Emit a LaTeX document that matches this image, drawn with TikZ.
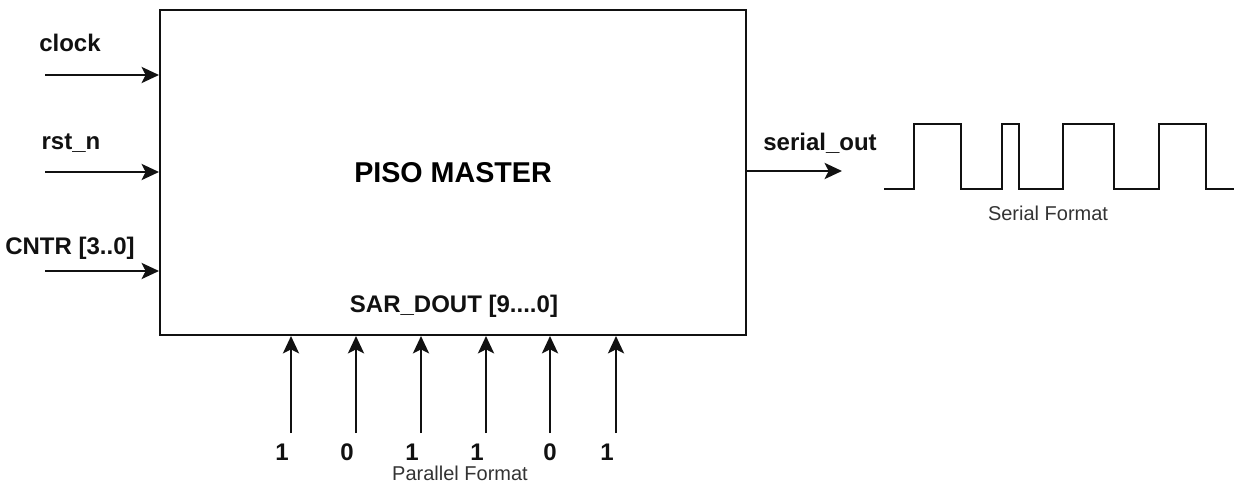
\documentclass[tikz,border=0pt]{standalone}
\usepackage{fontspec}
\setmainfont{Liberation Sans}
\usetikzlibrary{arrows.meta, calc}
\definecolor{ink}{HTML}{111111}
\definecolor{note}{HTML}{333333}

\begin{document}
\begin{tikzpicture}[
  x=0.75pt, y=-0.75pt,
  >={Stealth[length=13pt, width=12pt, inset=3pt]},
  sig/.style={->, ink, line width=2.2pt},
  lbl/.style={ink, font=\fontsize{18}{20}\selectfont\bfseries, inner sep=0pt},
  fmt/.style={note, font=\fontsize{15}{17}\selectfont, inner sep=0pt}
]

% Canvas
\useasboundingbox (0,0) rectangle (1234,495);

% ── Main block ──
\node[draw=ink, line width=1.5pt, minimum width=439.5pt, minimum height=243.75pt,
  font=\fontsize{21.5}{24}\selectfont\bfseries, inner sep=0pt]
  (piso) at (453,172.5) {PISO MASTER};
\node[lbl] (dout) at (454,306) {SAR\_DOUT [9....0]};

% ── Inputs on the left ──
\coordinate (clkin) at (45,75);
\coordinate (rstin) at (45,172);
\coordinate (cntin) at (45,271);
\draw[sig] (clkin) -- (clkin -| piso.west);
\draw[sig] (rstin) -- (rstin -| piso.west);
\draw[sig] (cntin) -- (cntin -| piso.west);
\node[lbl] (clk) at (70,43) {clock};
\node[lbl] (rst) at (71,143) {rst\_n};
\node[lbl] (cnt) at (70,248) {CNTR [3..0]};

% ── Serial output ──
\coordinate (souttip) at (842,171);
\draw[sig] (souttip -| piso.east) -- (souttip);
\node[lbl] (sout) at (820,143) {serial\_out};

% ── Serial waveform ──
\draw[ink, line width=1.5pt]
  (884,189) -- (914,189) -- (914,124) -- (961,124) -- (961,189)
  -- (1002,189) -- (1002,124) -- (1019,124) -- (1019,189)
  -- (1063,189) -- (1063,124) -- (1114,124) -- (1114,189)
  -- (1159,189) -- (1159,124) -- (1206,124) -- (1206,189) -- (1234,189);
\node[fmt] (sfmt) at (1048,213) {Serial Format};

% ── Parallel inputs ──
\foreach \n/\x/\tx/\b in {1/291/282/1, 2/356/347/0, 3/421/412/1,
                          4/486/477/1, 5/550/550/0, 6/616/607/1} {
  \coordinate (p\n) at (\x,433);
  \draw[sig] (p\n) -- (p\n |- piso.south);
  \node[lbl] (b\n) at (\tx,452) {\b};
}
\node[fmt] (pfmt) at (460,473) {Parallel Format};

\end{tikzpicture}
\end{document}
